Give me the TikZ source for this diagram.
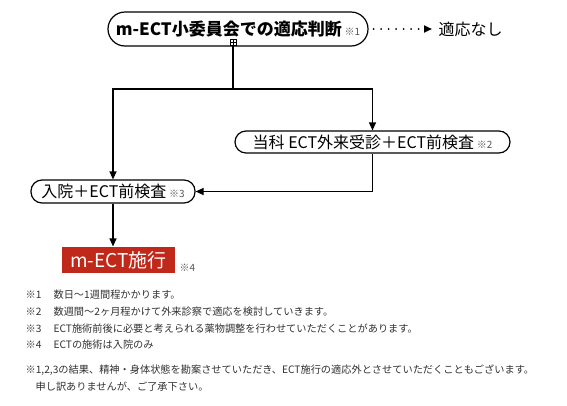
\documentclass[tikz,border=0pt]{standalone}
\usepackage{fontspec}
\setmainfont{Noto Sans CJK JP}
\usetikzlibrary{arrows.meta,positioning,calc}
\definecolor{sekou}{HTML}{C0281A}
\definecolor{chu}{HTML}{555555}
\definecolor{bun}{HTML}{303030}

\begin{document}
\begin{tikzpicture}[x=1pt, y=-1pt, line width=1.2pt,
  kadomaru/.style={draw, rounded corners=11pt, minimum height=22pt, inner sep=0pt, font=\fontsize{16}{16}\selectfont},
  yajirushi/.style={-{Triangle[length=8pt,width=7pt]}},
  chushaku/.style={anchor=west, inner sep=0pt, text=bun, font=\fontsize{10.2}{17}\selectfont}]
\useasboundingbox (0,0) rectangle (567,405);
% flow
\node[kadomaru, rounded corners=17pt, minimum width=260pt, minimum height=34pt, font=\fontsize{17}{17}\selectfont\bfseries] (t) at (238,29) {m-ECT小委員会での適応判断\,{\fontsize{10}{10}\selectfont\mdseries\color{chu}※1}};
\node[draw, fill=white, line width=0.6pt, minimum size=6pt, inner sep=0pt,
  path picture={\draw[line width=0.5pt] (path picture bounding box.north) -- (path picture bounding box.south) (path picture bounding box.west) -- (path picture bounding box.east);}] (p) at (233,42) {};
\node[inner xsep=6pt, inner ysep=0pt, anchor=west, font=\fontsize{16}{16}\selectfont] (n) at (432,29) {適応なし};
\node[kadomaru, minimum width=275pt] (r) at (372.5,142) {当科 ECT外来受診＋ECT前検査\,{\fontsize{10}{10}\selectfont\color{chu}※2}};
\node[kadomaru, minimum width=164pt, minimum height=23pt] (h) at (113,191.5) {入院＋ECT前検査\,{\fontsize{10}{10}\selectfont\color{chu}※3}};
\node[fill=sekou, text=white, minimum width=113pt, minimum height=26pt, inner sep=0pt, font=\fontsize{19}{19}\selectfont] (m) at (118.5,260) {m-ECT施行};
\node[anchor=west, inner sep=0pt, text=chu, font=\fontsize{10}{10}\selectfont] (m4) at (179,268) {※4};
\coordinate (j) at (233,89);
\draw[yajirushi, line cap=round, dash pattern=on 0pt off 7.5pt, line width=2.2pt, shorten <=5pt] (t.east) -- (n.west);
\draw (p.south) -- (j);
\draw[yajirushi] (j) -| (h.north);
\draw[yajirushi] (j) -| (r.north);
\draw[yajirushi] (r.south) |- (h.east);
\draw[yajirushi] (h.south) -- (h.south |- m.north);
% notes
\node[chushaku] (c1) at (25,295) {\makebox[28pt][l]{※1}数日〜1週間程かかります。};
\node[chushaku] (c2) at (25,312) {\makebox[28pt][l]{※2}数週間〜2ヶ月程かけて外来診察で適応を検討していきます。};
\node[chushaku] (c3) at (25,329) {\makebox[28pt][l]{※3}ECT施術前後に必要と考えられる薬物調整を行わせていただくことがあります。};
\node[chushaku] (c4) at (25,345) {\makebox[28pt][l]{※4}ECTの施術は入院のみ};
\node[chushaku, align=left] (c5) at (25,378) {※1,2,3の結果、精神・身体状態を勘案させていただき、ECT施行の適応外とさせていただくこともございます。\\\hspace*{10pt}申し訳ありませんが、ご了承下さい。};
\end{tikzpicture}
\end{document}
